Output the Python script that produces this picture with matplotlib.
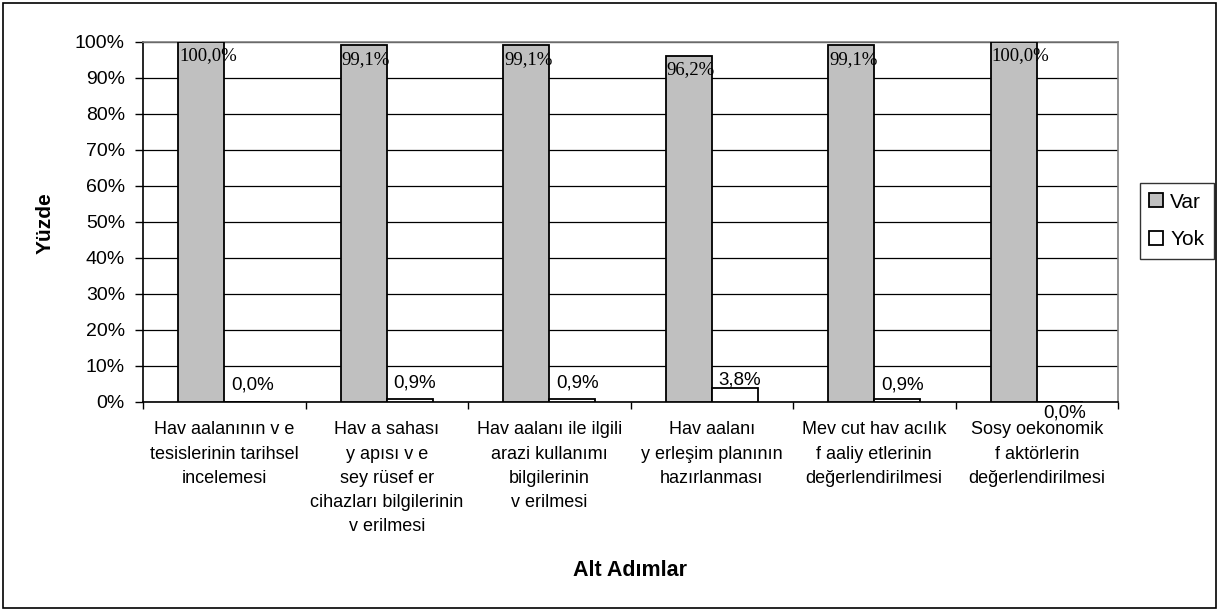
import numpy as np
import matplotlib
matplotlib.use("Agg")
import matplotlib.pyplot as plt
from matplotlib.patches import Rectangle
from matplotlib.ticker import FuncFormatter

categories = [
    "Hav aalanının v e\ntesislerinin tarihsel\nincelemesi",
    "Hav a sahası\ny apısı v e\nsey rüsef er\ncihazları bilgilerinin\nv erilmesi",
    "Hav aalanı ile ilgili\narazi kullanımı\nbilgilerinin\nv erilmesi",
    "Hav aalanı\ny erleşim planının\nhazırlanması",
    "Mev cut hav acılık\nf aaliy etlerinin\ndeğerlendirilmesi",
    "Sosy oekonomik\nf aktörlerin\ndeğerlendirilmesi",
]
var_values = [100.0, 99.1, 99.1, 96.2, 99.1, 100.0]
yok_values = [0.0, 0.9, 0.9, 3.8, 0.9, 0.0]
series_names = ["Var", "Yok"]
y_ticks = [0, 10, 20, 30, 40, 50, 60, 70, 80, 90, 100]

plt.rcParams['font.family'] = ['Liberation Sans', 'DejaVu Sans']

W, H = 1219, 611
fig = plt.figure(figsize=(W / 100, H / 100), dpi=100)
ax = fig.add_axes([143 / W, 1 - 402 / H, 975 / W, 360 / H])

x = np.arange(len(categories))
bw = 0.283
ax.bar(x - bw / 2, var_values, bw, color="#C0C0C0", edgecolor="black",
       linewidth=1.3, label=series_names[0], zorder=3)
ax.bar(x + bw / 2, yok_values, bw, color="white", edgecolor="black",
       linewidth=1.3, label=series_names[1], zorder=3)

ax.set_xlim(-0.5, len(categories) - 0.5)
ax.set_ylim(0, 100)
ax.set_yticks(y_ticks)
ax.yaxis.set_major_formatter(FuncFormatter(lambda v, p: f"{int(v)}%"))
ax.yaxis.grid(True, color="black", linewidth=0.9, zorder=0)
ax.set_axisbelow(True)

ax.set_xticks(np.arange(len(categories) + 1) - 0.5)
ax.set_xticklabels([])
ax.set_xticks(x, minor=True)
ax.set_xticklabels(categories, minor=True, fontsize=13, linespacing=1.55, va="top")
ax.tick_params(axis="x", which="minor", length=0, pad=14)
ax.tick_params(axis="x", which="major", direction="out", length=5, width=1)
ax.tick_params(axis="y", direction="out", length=6, width=1, labelsize=14, pad=7)

for side in ["top", "right"]:
    ax.spines[side].set_color("#808080")
    ax.spines[side].set_linewidth(1.2)
for side in ["left", "bottom"]:
    ax.spines[side].set_color("black")
    ax.spines[side].set_linewidth(1.2)

# Var labels (serif, inside top-left of bar)
for xi, v in zip(x, var_values):
    ax.annotate(f"{v:.1f}%".replace(".", ","), xy=(xi - bw, v), xytext=(1, -14),
                textcoords="offset pixels", ha="left", va="center",
                family="Liberation Serif", fontsize=13.5, zorder=5)

# Yok labels (sans, above bar)
yok_offsets = [17, 16, 16, 8, 14, -11]
for xi, v, off in zip(x, yok_values, yok_offsets):
    ax.annotate(f"{v:.1f}%".replace(".", ","), xy=(xi + bw / 2, v), xytext=(5, off),
                textcoords="offset pixels", ha="center", va="center",
                fontsize=13.5, zorder=5, annotation_clip=False)

fig.text(45 / W, 1 - 223 / H, "Yüzde", rotation=90, ha="center", va="center",
         fontsize=15, fontweight="bold")
fig.text(630 / W, 1 - 571 / H, "Alt Adımlar", ha="center", va="center",
         fontsize=15.5, fontweight="bold")

leg = ax.legend(loc="center left", bbox_to_anchor=(1140 / W, 1 - 221 / H),
                bbox_transform=fig.transFigure, fontsize=15, frameon=True,
                fancybox=False, edgecolor="black", handlelength=0.65,
                handleheight=0.65, handletextpad=0.35, borderpad=0.45,
                labelspacing=0.9, borderaxespad=0)
leg.get_frame().set_linewidth(1.0)

fig.patches.append(Rectangle((3 / W, 3 / H), 1 - 6 / W, 1 - 6 / H,
                             transform=fig.transFigure, fill=False,
                             edgecolor="black", linewidth=1.2))

fig.savefig("out.png", dpi=100)
